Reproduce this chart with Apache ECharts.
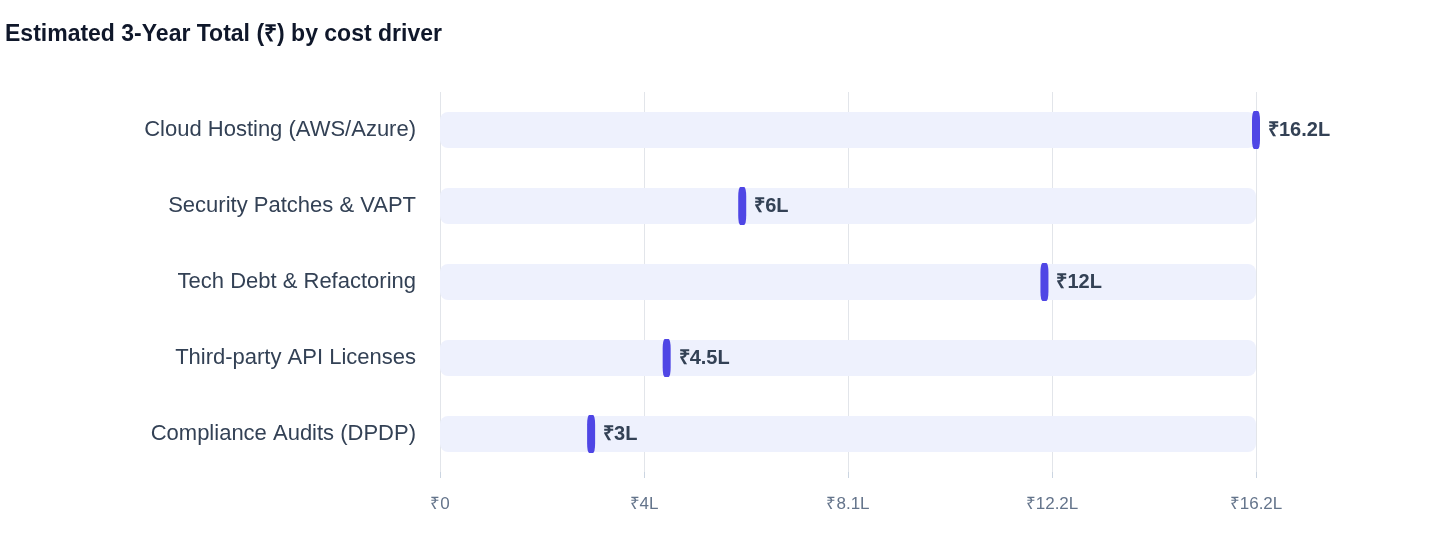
<!DOCTYPE html><html><head><meta charset="utf-8"><script src="https://cdn.jsdelivr.net/npm/echarts@6/dist/echarts.min.js"></script>
<style>body{margin:0;background:#fff}#c{width:1440px;height:560px}</style></head><body><div id="c"></div><script>
const categories=["Cloud Hosting (AWS/Azure)","Security Patches & VAPT","Tech Debt & Refactoring","Third-party API Licenses","Compliance Audits (DPDP)"];
const values=[16.2,6,12,4.5,3];
const valueLabels=["₹16.2L","₹6L","₹12L","₹4.5L","₹3L"];
const tickLabels={"0":"₹0","4.05":"₹4L","8.1":"₹8.1L","12.15":"₹12.2L","16.2":"₹16.2L"};
const maxV=16.2;
const F="Liberation Sans, Arial, sans-serif";
const ch=echarts.init(document.getElementById('c'));
ch.setOption({
 animation:false,
 title:{text:"Estimated 3-Year Total (₹) by cost driver",left:0,top:18,textStyle:{fontFamily:F,fontSize:23,fontWeight:"bold",color:"#0f172a"}},
 grid:{left:440,right:184,top:92,bottom:88},
 xAxis:{type:"value",min:0,max:maxV,interval:4.05,
  axisLine:{show:false},axisTick:{show:true,length:6,lineStyle:{color:"#cbd5e1"}},
  splitLine:{lineStyle:{color:"#e2e5ea"}},
  axisLabel:{margin:24,color:"#64748b",fontSize:17,fontFamily:F,formatter:v=>tickLabels[String(+v.toFixed(2))]||""}},
 yAxis:{type:"category",data:categories,inverse:true,axisLine:{show:false},axisTick:{show:false},
  axisLabel:{margin:24,color:"#334155",fontSize:22,fontFamily:F}},
 series:[
  {type:"bar",data:categories.map(()=>maxV),barWidth:36,itemStyle:{color:"#eef1fd",borderRadius:8},silent:true,z:1},
  {type:"scatter",data:values.map((v,i)=>[v,i]),symbol:"roundRect",symbolSize:[8,38],itemStyle:{color:"#4f46e5",opacity:1},z:3,
   label:{show:true,position:"right",distance:8,formatter:p=>valueLabels[p.dataIndex],fontFamily:F,fontSize:20,fontWeight:"bold",color:"#334155"}}
 ]
});
</script></body></html>
